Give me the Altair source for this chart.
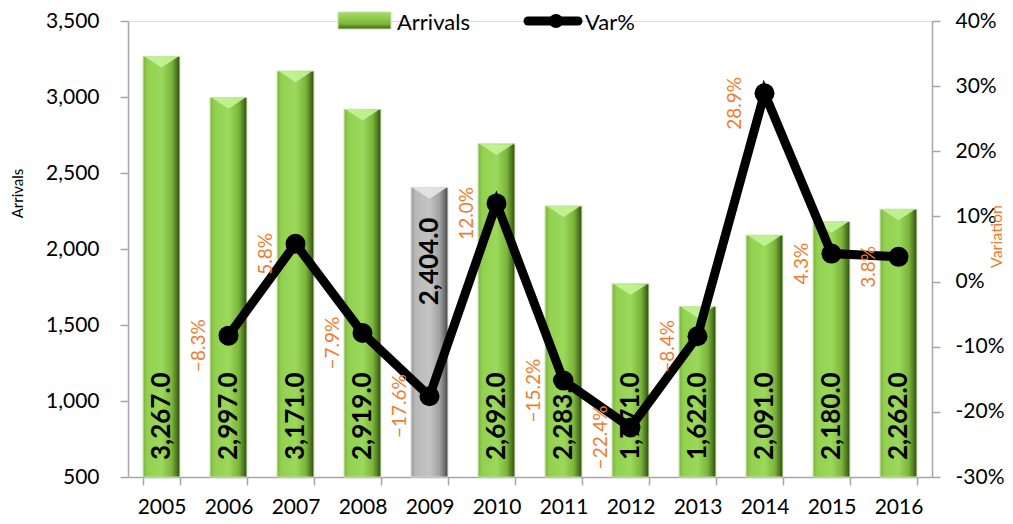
import altair as alt
import pandas as pd

years = ["2005", "2006", "2007", "2008", "2009", "2010",
         "2011", "2012", "2013", "2014", "2015", "2016"]
arrivals = [3267, 2997, 3171, 2919, 2404, 2692, 2283, 1771, 1622, 2091, 2180, 2262]
variation = [None, -8.3, 5.8, -7.9, -17.6, 12.0, -15.2, -22.4, -8.4, 28.9, 4.3, 3.8]
highlight_year = "2009"

df = pd.DataFrame({"year": years, "arrivals": arrivals, "var": variation})

FONT = "Lato"
ORANGE = "#ED7D31"
AXIS_GRAY = "#a6a6a6"

green = alt.Gradient(
    gradient="linear", x1=0, x2=1, y1=0, y2=0,
    stops=[
        alt.GradientStop(offset=0, color="#7db23f"),
        alt.GradientStop(offset=0.12, color="#92d050"),
        alt.GradientStop(offset=0.5, color="#9bd95c"),
        alt.GradientStop(offset=0.78, color="#7cb53a"),
        alt.GradientStop(offset=0.92, color="#4d7422"),
        alt.GradientStop(offset=1, color="#2d4512"),
    ],
)
gray = alt.Gradient(
    gradient="linear", x1=0, x2=1, y1=0, y2=0,
    stops=[
        alt.GradientStop(offset=0, color="#9a9a9a"),
        alt.GradientStop(offset=0.12, color="#b8b8b8"),
        alt.GradientStop(offset=0.5, color="#c4c4c4"),
        alt.GradientStop(offset=0.78, color="#a0a0a0"),
        alt.GradientStop(offset=0.92, color="#6a6a6a"),
        alt.GradientStop(offset=1, color="#3c3c3c"),
    ],
)
legend_green = alt.Gradient(
    gradient="linear", x1=0, x2=0, y1=0, y2=1,
    stops=[
        alt.GradientStop(offset=0, color="#a6dc6c"),
        alt.GradientStop(offset=0.3, color="#92d050"),
        alt.GradientStop(offset=0.7, color="#7cb53a"),
        alt.GradientStop(offset=1, color="#3f5f1a"),
    ],
)

base = alt.Chart(df)

x_axis = alt.Axis(
    title=None, labelAngle=0, labelFont=FONT, labelFontSize=21,
    labelColor="black", tickBand="extent", tickSize=8,
    domainColor=AXIS_GRAY, tickColor=AXIS_GRAY, domainWidth=1.5,
    tickWidth=1.5, labelPadding=11,
)
x_scale = alt.Scale(paddingInner=0.45, paddingOuter=0.225)


def xe():
    return alt.X("year:N", sort=years, scale=x_scale, axis=x_axis)


y_scale = alt.Scale(domain=[500, 3500], nice=False, zero=False)
left_axis = alt.Axis(
    title="Arrivals", values=[500, 1000, 1500, 2000, 2500, 3000, 3500],
    labelExpr="format(datum.value, ',')", labelFont=FONT, labelFontSize=21,
    labelColor="black",
    tickSize=8, tickColor=AXIS_GRAY, domainColor=AXIS_GRAY,
    domainWidth=1.5, tickWidth=1.5, labelPadding=21, grid=False,
    titleFont=FONT, titleFontSize=15, titleFontWeight="normal",
    titleColor="black", titleX=-111, titleY=172, titleAngle=270,
    titleAlign="center", titleBaseline="middle",
)


def yl():
    return alt.Y("arrivals:Q", scale=y_scale, axis=left_axis)


green_data = base.transform_filter(alt.datum.year != highlight_year)
hl_data = base.transform_filter(alt.datum.year == highlight_year)

bars = green_data.mark_bar(
    fill=green, stroke="#c9e3a6", strokeWidth=1
).encode(x=xe(), y=yl(), y2=alt.Y2(datum=500))

bar_hl = hl_data.mark_bar(
    fill=gray, stroke="#d8d8d8", strokeWidth=1
).encode(x=xe(), y=yl(), y2=alt.Y2(datum=500))

# bevel highlight on bar tops
BEVEL = "M -0.92 0.02 L 0.92 0.02 L 0 0.62 Z"
bevel_g = green_data.mark_point(
    shape=BEVEL, size=1300, filled=True, fill="#c4f396", opacity=0.9,
    strokeWidth=0,
).encode(x=xe(), y=yl())
bevel_h = hl_data.mark_point(
    shape=BEVEL, size=1300, filled=True, fill="#e6e6e6", opacity=0.9,
    strokeWidth=0,
).encode(x=xe(), y=yl())

bar_labels = green_data.mark_text(
    angle=270, align="left", baseline="middle", font=FONT, fontSize=26,
    fontWeight="bold", color="black", yOffset=-17,
).encode(
    x=xe(),
    y=alt.Y(datum=500, scale=y_scale, axis=left_axis),
    text=alt.Text("arrivals:Q", format=",.1f"),
)

bar_label_hl = hl_data.mark_text(
    angle=270, align="right", baseline="middle", font=FONT, fontSize=26,
    fontWeight="bold", color="black", yOffset=30,
).encode(
    x=xe(),
    y=yl(),
    text=alt.Text("arrivals:Q", format=",.1f"),
)

left = alt.layer(bars, bar_hl, bevel_g, bevel_h, bar_labels, bar_label_hl)

r_scale = alt.Scale(domain=[-30, 40], nice=False, zero=False)
right_axis = alt.Axis(
    orient="right", title="Variation",
    values=[-30, -20, -10, 0, 10, 20, 30, 40],
    labelExpr="datum.value + '%'", labelFont=FONT, labelFontSize=21,
    labelColor="black", tickSize=8, tickColor=AXIS_GRAY,
    domainColor=AXIS_GRAY, domainWidth=1.5, tickWidth=1.5,
    labelPadding=15, grid=False, titleFont=FONT, titleFontSize=16,
    titleFontWeight="normal", titleColor=ORANGE, titleX=64, titleY=215,
    titleAngle=270, titleAlign="center", titleBaseline="middle",
)


def yr():
    return alt.Y("var:Q", scale=r_scale, axis=right_axis)


var_data = base.transform_filter("isValid(datum['var'])")

line = var_data.mark_line(color="black", strokeWidth=9).encode(x=xe(), y=yr())
points = var_data.mark_circle(color="black", size=400, opacity=1).encode(
    x=xe(), y=yr()
)
var_labels = var_data.transform_calculate(
    lbl="format(datum['var'], '.1f') + '%'"
).mark_text(
    angle=270, align="center", baseline="middle", font=FONT, fontSize=19,
    color=ORANGE, xOffset=-30, yOffset=10,
).encode(x=xe(), y=yr(), text="lbl:N")

right = alt.layer(line, points, var_labels)

# legend
one = alt.Chart(pd.DataFrame({"k": [0]}))
leg_swatch = one.mark_rect(fill=legend_green, stroke="#c9e3a6").encode(
    x=alt.value(210), x2=alt.value(263), y=alt.value(-9), y2=alt.value(8)
)
leg_text1 = one.mark_text(
    align="left", baseline="middle", font=FONT, fontSize=22, color="black"
).encode(x=alt.value(269), y=alt.value(2), text=alt.value("Arrivals"))
leg_line = one.mark_rule(color="black", strokeWidth=9, strokeCap="round").encode(
    x=alt.value(400), x2=alt.value(450), y=alt.value(0)
)
leg_dot = one.mark_circle(color="black", size=200, opacity=1).encode(
    x=alt.value(428), y=alt.value(0)
)
leg_text2 = one.mark_text(
    align="left", baseline="middle", font=FONT, fontSize=22, color="black"
).encode(x=alt.value(457), y=alt.value(2), text=alt.value("Var%"))

chart = alt.layer(
    left, right, leg_swatch, leg_text1, leg_line, leg_dot, leg_text2
).resolve_scale(y="independent").properties(
    width=804, height=456,
    padding={"left": 120, "top": 13, "right": 73, "bottom": 43},
    autosize=alt.AutoSizeParams(type="none"),
).configure_view(stroke=None).configure(background="white")

chart.save("out.html", embed_options={"renderer": "svg", "actions": False})
